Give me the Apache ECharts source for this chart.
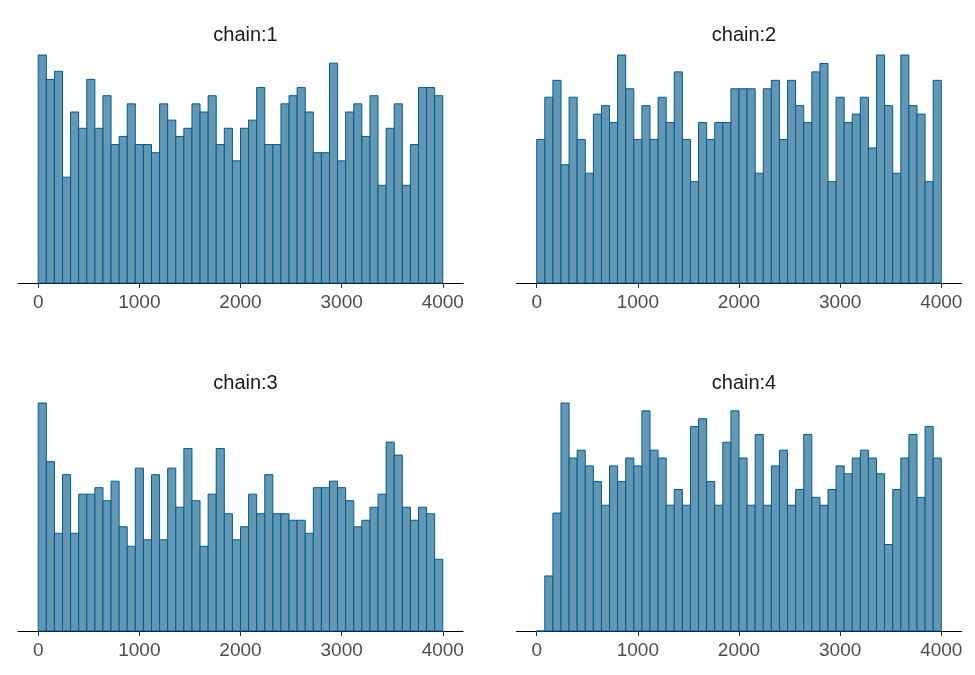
<!DOCTYPE html>
<html>
<head>
<meta charset="utf-8">
<script src="https://cdn.jsdelivr.net/npm/echarts@6/dist/echarts.min.js"></script>
<style>
  html, body { margin: 0; padding: 0; background: #fff; }
  #main { width: 975px; height: 675px; }
</style>
</head>
<body>
<div id="main"></div>
<script>
// histogram of draws per chain, 50 bins of width 80 over 0..4000
var binStart = 0;
var binWidth = 80;
var tickValues = [0, 1000, 2000, 3000, 4000];
var chainNames = ["chain:1", "chain:2", "chain:3", "chain:4"];

var chain1 = [28, 25, 26, 13, 21, 19, 25, 19, 23, 17, 18, 22, 17, 17, 16, 22, 20, 18, 19, 22, 21, 23, 17, 19, 15,
              19, 20, 24, 17, 17, 22, 23, 24, 21, 16, 16, 27, 15, 21, 22, 18, 23, 12, 19, 22, 12, 17, 24, 24, 23];
var chain2 = [17, 22, 24, 14, 22, 17, 13, 20, 21, 19, 27, 23, 17, 21, 17, 22, 19, 25, 17, 12, 19, 17, 19, 19, 23,
              23, 23, 13, 23, 24, 17, 24, 21, 19, 25, 26, 12, 22, 19, 20, 22, 16, 27, 21, 13, 27, 21, 20, 12, 24];
var chain3 = [35, 26, 15, 24, 15, 21, 21, 22, 20, 23, 16, 13, 25, 14, 24, 14, 25, 19, 28, 20, 13, 21, 28, 18, 14,
              16, 21, 18, 24, 18, 18, 17, 17, 15, 22, 22, 23, 22, 20, 16, 17, 19, 21, 29, 27, 19, 17, 19, 18, 11];
var chain4 = [0, 7, 15, 29, 22, 23, 21, 19, 16, 21, 19, 22, 21, 28, 23, 22, 16, 18, 16, 26, 27, 19, 16, 24, 28,
              22, 16, 25, 16, 21, 23, 16, 18, 25, 17, 16, 18, 21, 20, 22, 23, 22, 20, 11, 18, 22, 25, 17, 26, 22];

var counts = [chain1, chain2, chain3, chain4];

var panels = [
  { left: 18, top: 55 },
  { left: 516.5, top: 55 },
  { left: 18, top: 403 },
  { left: 516.5, top: 403 }
];

var chart = echarts.init(document.getElementById("main"));

var grids = [], xAxes = [], yAxes = [], titles = [], series = [];

panels.forEach(function (p, i) {
  grids.push({ left: p.left, top: p.top, width: 445, height: 228 });
  titles.push({
    text: chainNames[i],
    left: p.left + 222.5,
    top: p.top - 35,
    textAlign: "center",
    textStyle: { fontFamily: "Liberation Sans", fontSize: 20, fontWeight: "normal", color: "#1a1a1a" }
  });
  xAxes.push({
    type: "value",
    gridIndex: i,
    min: -200,
    max: 4200,
    splitLine: { show: false },
    axisLine: { show: true, lineStyle: { color: "#000", width: 1.2 } },
    axisTick: { show: true, customValues: tickValues, length: 5, lineStyle: { color: "#333" } },
    axisLabel: {
      customValues: tickValues,
      formatter: function (v) { return String(v); },
      margin: 10,
      fontFamily: "Liberation Sans",
      fontSize: 19,
      color: "#4d4d4d"
    }
  });
  yAxes.push({
    type: "value",
    gridIndex: i,
    min: 0,
    max: Math.max.apply(null, counts[i]),
    show: false
  });
  var data = counts[i].map(function (c, k) {
    return [binStart + k * binWidth, binStart + (k + 1) * binWidth, c];
  });
  series.push({
    type: "custom",
    xAxisIndex: i,
    yAxisIndex: i,
    encode: { x: [0, 1], y: 2 },
    data: data,
    renderItem: function (params, api) {
      var a = api.coord([api.value(0), api.value(2)]);
      var b = api.coord([api.value(1), 0]);
      return {
        type: "rect",
        shape: { x: a[0], y: a[1], width: b[0] - a[0], height: b[1] - a[1] },
        style: { fill: "#6497b1", stroke: "#005b96", lineWidth: 1 }
      };
    }
  });
});

chart.setOption({
  animation: false,
  title: titles,
  grid: grids,
  xAxis: xAxes,
  yAxis: yAxes,
  series: series
});
</script>
</body>
</html>
